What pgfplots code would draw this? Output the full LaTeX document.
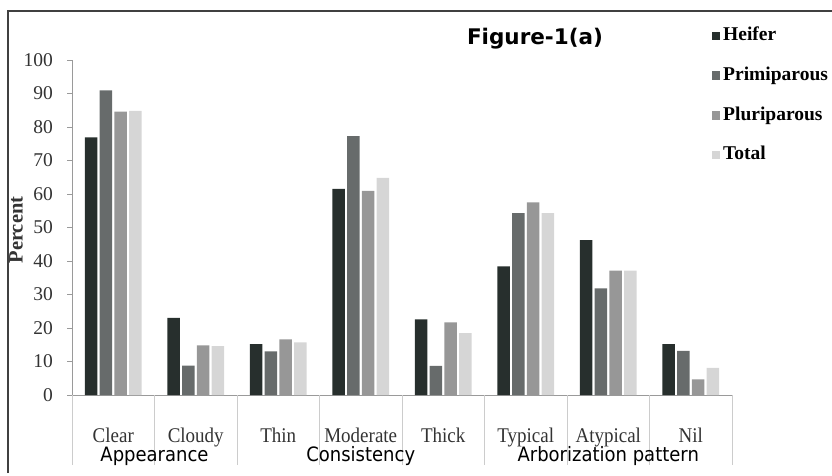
\documentclass[border=0pt]{standalone}
\usepackage{pgfplots}
\pgfplotsset{compat=1.18}
\usepackage{pgfplotstable}
\usepackage{graphicx}
\usepackage{fontspec}
\setmainfont{Liberation Serif}
\newfontfamily\dejavu{DejaVu Sans}
\definecolor{cHeif}{HTML}{272F2D}
\definecolor{cPrim}{HTML}{676B6B}
\definecolor{cPlur}{HTML}{979797}
\definecolor{cTot}{HTML}{D6D6D6}
\definecolor{txt}{HTML}{333333}
\definecolor{axc}{HTML}{9A9A9A}
\definecolor{divc}{HTML}{CCCCCC}
\newcommand{\tall}[1]{\scalebox{1}[1.1]{#1}}

\pgfplotstableread{
x heif prim plur tot
0 76.9 90.9 84.6 84.8
1 23.0 8.8 14.8 14.6
2 15.2 13.0 16.6 15.7
3 61.5 77.3 60.9 64.8
4 22.6 8.7 21.7 18.5
5 38.4 54.3 57.5 54.3
6 46.2 31.8 37.1 37.1
7 15.2 13.2 4.7 8.1
}\data

\begin{document}
\begin{tikzpicture}[x=1pt,y=1pt]
\useasboundingbox (0,0) rectangle (832,475);
\draw[line width=1.5pt, black!75] (8,2) -- (8,464) -- (845,464);
\begin{axis}[
  at={(72pt,80pt)}, anchor=south west,
  scale only axis, width=660pt, height=335pt,
  xmin=-0.5, xmax=7.5, ymin=0, ymax=100,
  axis x line*=bottom, axis y line*=left,
  axis line style={draw=axc, line width=1pt, -},
  ybar=2.2pt, bar width=12.5pt,
  xtick={0,...,7},
  xticklabels={\tall{Clear},\tall{Cloudy},\tall{Thin},\tall{Moderate},\tall{Thick},\tall{Typical},\tall{Atypical},\tall{Nil}},
  xtick style={draw=none},
  xticklabel style={anchor=base, yshift=-42pt, inner sep=0pt, font=\fontsize{19}{22}\selectfont, text=txt},
  ytick={0,10,...,100},
  ytick style={draw=axc, line width=1pt},
  tick align=outside, major tick length=5pt,
  yticklabel style={anchor=east, inner sep=0pt, xshift=-14pt, font=\fontsize{19.5}{22}\selectfont, text=txt},
  /pgf/number format/assume math mode=true,
  clip=false,
  legend style={draw=none, fill=none, at={(0.969,1.106)}, anchor=north west, inner sep=0pt,
    font=\bfseries\fontsize{19.5}{22}\selectfont, row sep=16.7pt,
    nodes={inner sep=3pt, text height=13pt, text depth=4pt}},
  legend cell align=left,
  legend image code/.code={\fill (0pt,-4pt) rectangle (8.5pt,4.5pt);},
]
\addplot[fill=cHeif, draw=none] table[x=x,y=heif]{\data};
\addplot[fill=cPrim, draw=none] table[x=x,y=prim]{\data};
\addplot[fill=cPlur, draw=none] table[x=x,y=plur]{\data};
\addplot[fill=cTot, draw=none] table[x=x,y=tot]{\data};
\legend{Heifer,Primiparous,Pluriparous,Total}
\foreach \k in {0,...,8}{
  \edef\tmp{\noexpand\draw[divc, line width=1pt] (axis cs:\k-0.5,0) -- ++(0pt,-70pt);}
  \tmp
}
\node[font=\dejavu\fontsize{18}{21}\selectfont, anchor=base, inner sep=0pt] at ([yshift=-66pt]axis cs:0.5,0) {\tall{Appearance}};
\node[font=\dejavu\fontsize{18}{21}\selectfont, anchor=base, inner sep=0pt] at ([yshift=-66pt]axis cs:3,0) {\tall{Consistency}};
\node[font=\dejavu\fontsize{18}{21}\selectfont, anchor=base, inner sep=0pt] at ([yshift=-66pt]axis cs:6,0) {\tall{Arborization pattern}};
\end{axis}
\node[font=\dejavu\bfseries\fontsize{21.5}{24}\selectfont, anchor=center] at (535,436) {Figure-1(a)};
\node[font=\bfseries\fontsize{20.5}{23}\selectfont, rotate=90, anchor=center, text=txt] at (16,245) {Percent};
\end{tikzpicture}
\end{document}
